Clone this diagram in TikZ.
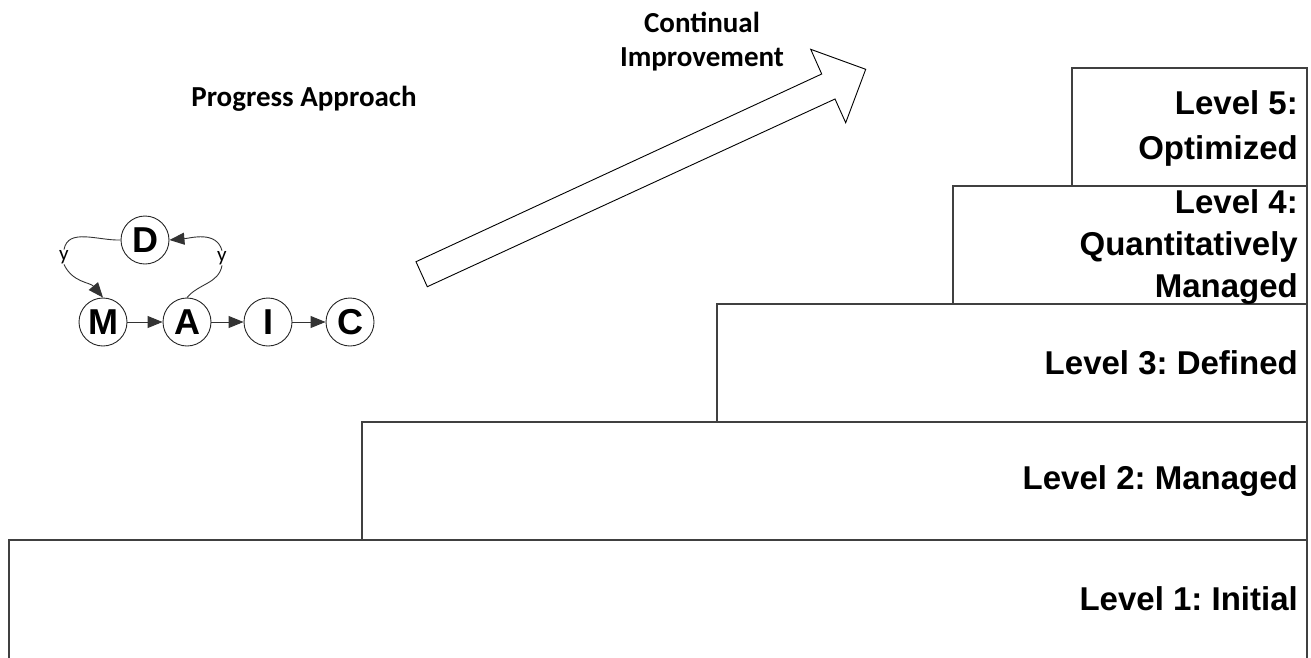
\documentclass[tikz,border=0pt]{standalone}
\usepackage{fontspec}
\setmainfont{Liberation Sans}
\newfontfamily\calfont{Carlito}
\usetikzlibrary{arrows.meta}
\tikzset{
  lvl/.style={draw=black!75, line width=1.3pt, fill=white},
  lvltext/.style={anchor=east, align=right, inner sep=0pt, font=\bfseries\fontsize{33}{42}\selectfont},
  phase/.style={circle, draw=black!85, line width=0.9pt, minimum size=48pt, inner sep=0pt, font=\bfseries\fontsize{36}{36}\selectfont},
  arr/.style={-{Triangle[length=15pt,width=12pt]}, line width=0.9pt, draw=black!80},
  link/.style={line width=0.9pt, draw=black!80},
  ylab/.style={inner sep=0.5pt, font=\calfont\fontsize{21}{21}\selectfont},
  heading/.style={align=center, inner sep=0pt, font=\calfont\bfseries\fontsize{29}{34}\selectfont},
  bigarrow/.style={draw=black, line width=0.9pt, fill=white, line join=miter}
}
\begin{document}
\frenchspacing
\begin{tikzpicture}[x=1pt,y=-1pt]
\useasboundingbox (0,0) rectangle (1311,657);
\clip (0,0) rectangle (1311,657);
% staircase
\draw[lvl] (9,540) rectangle (1307,664);
\draw[lvl] (362,422) rectangle (1307,540);
\draw[lvl] (717,304) rectangle (1307,422);
\draw[lvl] (953,186) rectangle (1307,304);
\draw[lvl] (1072,68) rectangle (1307,186);
\node[lvltext] (l1) at (1298,599) {Level 1: Initial};
\node[lvltext] (l2) at (1298,481) {Level 2: Managed};
\node[lvltext] (l3) at (1298,363) {Level 3: Defined};
\node[lvltext] (l4) at (1298,247) {Level 4:\\Quantitatively\\Managed};
\node[lvltext, font=\bfseries\fontsize{33}{45}\selectfont] (l5) at (1298,128) {Level 5:\\Optimized};
% big arrow
\draw[bigarrow] (416,261.7) -- (821.7,74) -- (810.7,49.3) -- (865.7,69.3) -- (845.7,122.7) -- (835,99) -- (427.3,286.7) -- cycle;
\node[heading] (ci) at (702,42) {Continual\\Improvement};
\node[heading] (pa) at (304,99) {Progress Approach};
% DMAIC
\node[phase] (M) at (103,322) {M};
\node[phase] (A) at (187,322) {A};
\node[phase] (I) at (268,322) {I};
\node[phase] (C) at (350,322) {C};
\node[phase] (D) at (145,240) {D};
\draw[arr] (M) -- (A);
\draw[arr] (A) -- (I);
\draw[arr] (I) -- (C);
\node[ylab] (y1) at (64,257) {y};
\node[ylab] (y2) at (222,258) {y};
\draw[link] (D.west) to[out=182,in=80] (y1.north);
\draw[arr] (y1.south) to[out=-65,in=130] (M.north);
\draw[link] (A.north) to[out=50,in=-100] (y2.south);
\draw[arr] (y2.north) to[out=105,in=5] (D.east);
\end{tikzpicture}
\end{document}
